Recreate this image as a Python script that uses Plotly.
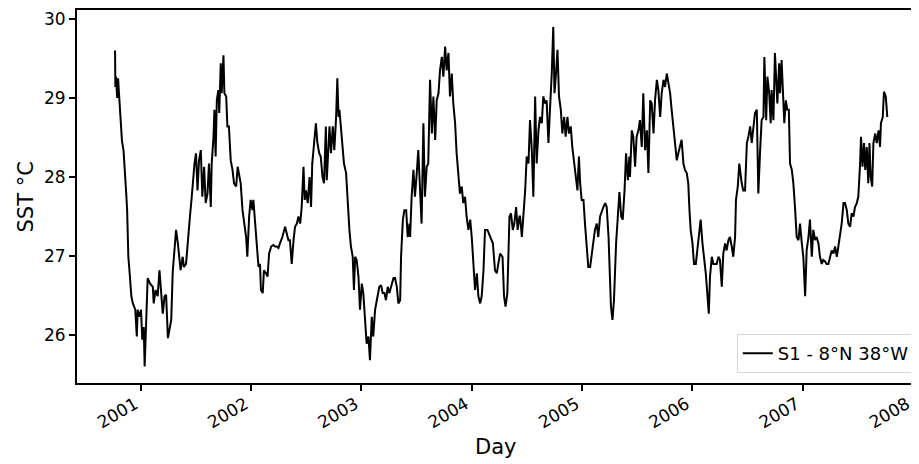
import pandas as pd
import plotly.graph_objects as go

# ---- data ----
start_date = "2000-10-07"   # first day of the record
series_name = "S1 - 8°N 38°W"

# day of record (days since start_date)
record_day = [
    0, 1, 3, 7, 10, 14, 18, 23, 28, 31, 34, 37, 40, 44, 48, 51, 54, 59, 64, 67,
    72, 75, 81, 86, 90, 95, 98, 103, 108, 116, 125, 128, 134, 141, 147, 152, 158, 164, 169, 175,
    180, 186, 191, 202, 208, 217, 224, 228, 235, 244,
    248, 254, 259, 263, 268, 273, 278, 284, 289, 295, 300, 306, 311, 317, 320, 326, 329, 333, 337, 342,
    345, 350, 353, 359, 362, 368, 372, 377, 383, 389, 394, 401, 406, 412, 416, 422, 428, 434, 438, 444,
    449, 455, 458, 464, 469, 475, 480, 483, 489, 493, 500, 505, 510, 517, 524, 530, 535, 541, 546, 554,
    563, 568, 574, 579, 585, 591, 596, 602, 607,
    613, 618, 624, 628, 632, 638, 644, 649, 653, 659, 665, 670, 676, 681, 687, 692, 698, 701, 705, 710,
    715, 721, 726, 732, 736, 740, 743, 747, 753, 758, 765, 770, 776, 781, 787, 791, 795, 800, 806, 811,
    817, 822, 828, 833, 839, 844, 850, 855, 861, 869, 875, 881, 886, 892, 897, 903, 908, 914, 922, 927,
    933, 938, 944, 947, 953, 958, 964, 969, 975,
    977, 982, 988, 993, 999, 1004, 1010, 1015, 1021, 1026, 1032, 1037, 1043, 1049, 1054, 1060, 1065, 1071, 1076, 1082,
    1087, 1093, 1098, 1104, 1109, 1115, 1120, 1126, 1131, 1137, 1142, 1148, 1153, 1159, 1164, 1170, 1176, 1181, 1187, 1192,
    1198, 1203, 1209, 1214, 1220, 1225, 1233, 1242, 1251, 1258, 1264, 1269, 1275, 1283, 1288, 1293, 1299, 1306, 1311, 1317,
    1322, 1328, 1333, 1339,
    1341, 1347, 1352, 1358, 1363, 1369, 1374, 1380, 1385, 1391, 1396, 1402, 1407, 1413, 1418, 1424, 1429, 1435, 1440, 1446,
    1451, 1455, 1460, 1465, 1470, 1476, 1481, 1487, 1492, 1498, 1503, 1509, 1514, 1520, 1525, 1531, 1536, 1540, 1545, 1551,
    1556, 1562, 1567, 1573, 1578, 1584, 1589, 1595, 1600, 1606, 1612, 1617, 1623, 1628, 1634, 1639, 1642, 1647, 1652, 1659,
    1665, 1670, 1676, 1681, 1687, 1692, 1698, 1703,
    1705, 1711, 1716, 1722, 1727, 1733, 1738, 1744, 1749, 1755, 1761, 1766, 1772, 1777, 1783, 1788, 1794, 1799, 1805, 1810,
    1816, 1821, 1827, 1832, 1838, 1843, 1849, 1854, 1860, 1865, 1871, 1876, 1882, 1887, 1893, 1898, 1902, 1906, 1912, 1917,
    1923, 1928, 1934, 1939, 1945, 1950, 1956, 1961, 1966, 1970, 1976, 1981, 1987, 1992, 1998, 2003, 2009, 2014, 2020, 2025,
    2031, 2036, 2042, 2047, 2053, 2056, 2062, 2067,
    2075, 2080, 2086, 2092, 2097, 2103, 2108, 2114, 2119, 2125, 2130, 2136, 2141, 2147, 2150, 2156, 2160, 2166, 2171, 2174,
    2180, 2185, 2189, 2193, 2199, 2202, 2207, 2213, 2216, 2221, 2226, 2231, 2235, 2241, 2246, 2252, 2257, 2263, 2268, 2274,
    2279, 2285, 2290, 2296, 2301, 2307, 2312, 2318, 2323, 2329, 2334, 2340, 2345, 2351, 2356, 2362,
    2368, 2373, 2379, 2384, 2390, 2395, 2401, 2406, 2412, 2417, 2423, 2428, 2434, 2439, 2445, 2450, 2456, 2461, 2467, 2470,
    2475, 2480, 2484, 2489, 2494, 2498, 2502, 2507, 2511, 2517, 2522, 2528, 2533, 2536, 2542, 2546, 2552, 2557,
]

# sea surface temperature, °C
sst = [
    29.6, 29.14, 29.27, 29.0, 29.25, 29.0, 28.76, 28.45, 28.34, 28.09, 27.95, 27.79, 27.58, 26.99, 26.8, 26.6, 26.49, 26.4, 26.35, 26.32,
    25.98, 26.32, 26.23, 26.32, 25.94, 26.1, 25.6, 26.32, 26.72, 26.65, 26.61, 26.4, 26.57, 26.49, 26.82, 26.57, 26.27, 26.49, 26.51, 25.96,
    26.06, 26.19, 26.8, 27.33, 27.16, 26.82, 26.99, 26.86, 26.9, 27.41,
    27.5, 27.75, 28.0, 28.17, 28.3, 27.83, 28.21, 28.34, 27.75, 28.13, 27.67, 27.79, 28.17, 27.62, 28.17, 28.51, 28.85, 28.26, 28.97, 29.1,
    28.81, 29.44, 29.06, 29.54, 29.06, 29.02, 28.64, 28.64, 28.21, 28.09, 27.92, 27.88, 28.13, 28.0, 27.92, 27.58, 27.41, 27.24, 26.99, 27.5,
    27.71, 27.58, 27.71, 27.41, 27.16, 26.86, 26.9, 26.57, 26.53, 26.82, 26.78, 26.74, 27.03, 27.12, 27.14, 27.12, 27.12, 27.1, 27.16, 27.24,
    27.37, 27.29, 27.2, 27.2, 26.9, 27.2, 27.37, 27.41, 27.5,
    27.41, 27.62, 28.13, 27.71, 27.83, 27.67, 28.0, 27.62, 28.17, 28.43, 28.68, 28.43, 28.3, 28.26, 28.0, 27.92, 28.64, 27.96, 28.34, 28.64,
    28.3, 28.64, 28.34, 28.76, 29.25, 28.76, 28.85, 28.64, 28.38, 28.17, 28.05, 27.67, 27.33, 27.12, 26.99, 26.57, 26.99, 26.95, 26.74, 26.32,
    26.65, 26.53, 26.23, 25.89, 25.98, 25.68, 26.23, 25.98, 26.32, 26.49, 26.61, 26.63, 26.53, 26.53, 26.44, 26.61, 26.53, 26.61, 26.72, 26.72,
    26.61, 26.4, 26.44, 26.99, 27.46, 27.58, 27.58, 27.24, 27.41,
    27.24, 27.75, 28.09, 27.75, 28.05, 28.34, 27.83, 27.41, 28.68, 27.75, 28.13, 28.17, 29.23, 28.55, 29.02, 28.47, 28.97, 29.06, 29.35, 29.52,
    29.27, 29.65, 29.35, 29.57, 29.02, 29.31, 28.93, 28.68, 28.3, 28.0, 27.79, 27.88, 27.67, 27.75, 27.5, 27.33, 27.46, 27.24, 26.82, 26.57,
    26.78, 26.49, 26.4, 26.49, 26.82, 27.33, 27.33, 27.24, 27.16, 26.82, 26.78, 26.9, 27.03, 26.99, 26.49, 26.36, 26.53, 27.5, 27.54, 27.33,
    27.41, 27.62, 27.33, 27.5,
    27.5, 27.24, 27.5, 27.83, 28.26, 28.17, 28.72, 28.34, 27.75, 29.02, 28.17, 28.59, 28.76, 28.68, 29.02, 28.93, 28.97, 28.43, 28.85, 29.31,
    29.9, 29.06, 29.31, 29.61, 29.02, 28.85, 28.55, 28.76, 28.51, 28.76, 28.55, 28.64, 28.38, 28.21, 28.05, 27.83, 28.26, 27.92, 27.71, 27.71,
    27.41, 27.03, 26.86, 26.86, 26.99, 27.16, 27.33, 27.41, 27.24, 27.5, 27.58, 27.62, 27.67, 27.62, 27.24, 26.65, 26.36, 26.19, 26.44, 27.16,
    27.5, 27.81, 27.5, 27.46, 27.83, 28.3, 27.96, 28.26,
    28.0, 28.59, 28.51, 28.13, 28.51, 28.59, 28.72, 28.38, 29.06, 28.34, 28.59, 28.05, 28.97, 28.93, 28.55, 28.97, 29.23, 29.1, 28.76, 29.06,
    29.23, 29.14, 29.31, 29.18, 29.06, 28.85, 28.64, 28.43, 28.21, 28.3, 28.38, 28.47, 28.17, 28.09, 28.05, 27.92, 27.58, 27.33, 27.16, 26.9,
    26.9, 27.07, 27.24, 27.46, 27.16, 26.99, 26.78, 26.53, 26.27, 26.74, 26.99, 26.9, 26.9, 26.9, 26.99, 26.95, 26.61, 27.03, 27.16, 27.07,
    27.2, 27.24, 27.12, 26.99, 27.24, 27.71, 27.88, 28.17,
    27.92, 27.83, 27.83, 28.43, 28.51, 28.64, 28.43, 28.68, 28.81, 28.85, 27.79, 28.34, 28.72, 28.76, 29.52, 28.72, 29.27, 29.06, 28.68, 29.1,
    28.72, 29.57, 29.18, 28.93, 29.44, 29.06, 29.48, 29.06, 28.68, 28.97, 28.85, 28.85, 28.17, 28.09, 27.92, 27.58, 27.24, 27.2, 27.41, 27.16,
    26.99, 26.49, 27.07, 27.24, 27.46, 26.99, 27.33, 27.2, 27.24, 27.16, 26.99, 26.9, 26.95, 26.93, 26.9, 26.9,
    26.99, 27.07, 27.03, 27.12, 26.99, 27.12, 27.24, 27.41, 27.67, 27.67, 27.58, 27.41, 27.37, 27.54, 27.5, 27.62, 27.67, 27.75, 28.17, 28.51,
    28.13, 28.43, 28.09, 28.38, 27.92, 28.43, 28.0, 27.88, 28.43, 28.55, 28.43, 28.59, 28.38, 28.68, 28.76, 29.08, 29.02, 28.76,
]

year_ticks = ["2001-01-01", "2002-01-01", "2003-01-01", "2004-01-01",
              "2005-01-01", "2006-01-01", "2007-01-01", "2008-01-01"]
year_labels = ["2001", "2002", "2003", "2004", "2005", "2006", "2007", "2008"]
sst_ticks = [26, 27, 28, 29, 30]
x_title = "Day"
y_title = "SST °C"

n = min(len(record_day), len(sst))
dates = pd.Timestamp(start_date) + pd.to_timedelta(record_day[:n], unit="D")

FONT = "DejaVu Sans"

fig = go.Figure()
fig.add_trace(go.Scatter(
    x=dates, y=sst[:n], mode="lines", name=series_name,
    line=dict(color="black", width=2),
))

# page body adds an 8 px offset; figure sized so the plot area lands on the reference pixels
fig.update_layout(
    width=911, height=456,
    margin=dict(l=69, r=0, t=2, b=81, autoexpand=False),
    paper_bgcolor="white", plot_bgcolor="white",
    font=dict(family=FONT, color="black", size=17),
    showlegend=True,
    legend=dict(
        x=0.995, y=0.027, xanchor="right", yanchor="bottom",
        bgcolor="rgba(255,255,255,0.8)", bordercolor="#d6d6d6", borderwidth=1,
        font=dict(family=FONT, size=18, color="black"),
    ),
    annotations=[
        dict(text=x_title, xref="paper", yref="paper", x=0.4976, y=0,
             xanchor="center", yanchor="middle", yshift=-64, showarrow=False,
             font=dict(family=FONT, size=21, color="black")),
        dict(text=y_title, xref="paper", yref="paper", x=-0.0606, y=0.5,
             xanchor="center", yanchor="middle", textangle=-90, showarrow=False,
             font=dict(family=FONT, size=21, color="black")),
    ],
)

fig.update_xaxes(
    range=["2000-06-03", "2008-01-21"],
    tickmode="array", tickvals=year_ticks, ticktext=year_labels,
    tickangle=-30, automargin=False, ticklabeloverflow="allow",
    ticklabelstandoff=-3, ticklabelshift=-6,
    ticks="outside", ticklen=6, tickwidth=1.5, tickcolor="black",
    showline=True, linecolor="black", linewidth=1.8, mirror=True,
    showgrid=False, zeroline=False,
    tickfont=dict(family=FONT, size=17, color="black"),
)
fig.update_yaxes(
    range=[25.392, 30.114],
    tickmode="array", tickvals=sst_ticks, automargin=False,
    ticks="outside", ticklen=6, tickwidth=1.5, tickcolor="black",
    showline=True, linecolor="black", linewidth=1.8, mirror=False,
    showgrid=False, zeroline=False,
    tickfont=dict(family=FONT, size=17, color="black"),
)

fig.write_html("out.html")
